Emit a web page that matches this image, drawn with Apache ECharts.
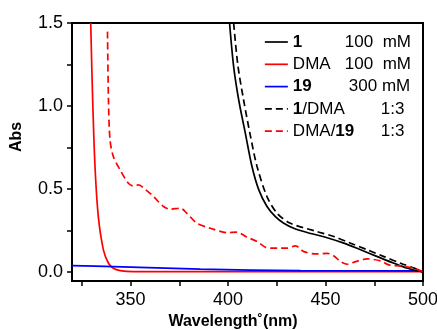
<!DOCTYPE html>
<html><head><meta charset="utf-8">
<script src="https://cdn.jsdelivr.net/npm/echarts@6/dist/echarts.min.js"></script>
<style>html,body{margin:0;padding:0;background:#fff}#c{width:437px;height:330px}</style>
</head><body><div id="c"></div>
<script>
const FONT = '"Liberation Sans", Arial, sans-serif';

// Series 1 (solid black)
const wl1  = [400.8,402.9,405.5,408.9,412.3,415.8,420.0,424.3,428.6,433.7,440.6,450.0,459.4,468.0,476.6,485.1,492.0,498.8,500];
const abs1 = [1.50,1.237,1.036,0.835,0.635,0.494,0.394,0.333,0.293,0.263,0.237,0.209,0.173,0.133,0.092,0.052,0.022,0.002,0.0];
// DMA (solid red)
const wlDMA  = [329.6,330.6,331.8,333.5,336.1,338.7,341.2,344.7,351.5,380,420,460,500];
const absDMA = [1.50,1.036,0.635,0.333,0.133,0.052,0.022,0.008,0.002,0.001,0.001,0.001,0.001];
// 19 (solid blue)
const wl19  = [320,341.2,385.8,437.2,500];
const abs19 = [0.038,0.032,0.016,0.008,0.006];
// 1/DMA 1:3 (dashed black)
const wl1D  = [402.9,405.0,408.0,411.5,414.9,420.0,425.2,432.0,445.7,454.3,462.9,471.4,480.0,488.5,497.0,500];
const abs1D = [1.50,1.25,1.036,0.82,0.635,0.454,0.353,0.293,0.243,0.213,0.173,0.133,0.092,0.052,0.016,0.0];
// DMA/19 1:3 (dashed red)
const wlD19  = [338.2,338.7,339.5,341.2,344.7,348.9,351.5,354.1,357.5,361.8,366.9,370.4,375.5,378.9,384.1,390.9,399.5,404.6,409.8,414.9,419.2,422.6,426.9,430.3,434.6,438.9,445.7,450.9,454.3,457.7,461.2,465.4,471.4,478.3,482.6,488.5,495.4,499.7];
const absD19 = [1.448,1.036,0.795,0.695,0.614,0.534,0.518,0.524,0.498,0.454,0.394,0.378,0.384,0.353,0.293,0.263,0.237,0.239,0.209,0.183,0.149,0.143,0.143,0.143,0.157,0.122,0.108,0.112,0.096,0.062,0.046,0.062,0.078,0.066,0.042,0.036,0.022,0.002];

const xTicks = [325,350,375,400,425,450,475,500];
const xLabels = [350,400,450,500];
const yTicks = [0,0.25,0.5,0.75,1.0,1.25,1.5];
const yLabels = [0,0.5,1.0,1.5];

const zip = (a,b) => a.map((v,i)=>[v,b[i]]);

const names = ['1','DMA','19','1/DMA','DMA/19'];
const colorList = ['#000000','#ff0000','#0000ff','#000000','#ff0000'];
const dashList = ['solid','solid','solid',[7,4],[7,4]];
const legendText = [
  '{bw|1}{n|100  mM}',
  '{nw|DMA}{n|100  mM}',
  '{bw2|19}{n|300 mM}',
  '{b|1}{nw4|/DMA}{n|1:3}',
  '{n|DMA/}{bw5|19}{n|1:3}'
];

const chart = echarts.init(document.getElementById('c'), null, {renderer:'canvas'});
const mk = (i, data) => ({
  name:names[i], type:'line', data, showSymbol:false, symbol:'none', smooth:0.3,
  lineStyle:{color:colorList[i], width:1.7, type: dashList[i]},
  itemStyle:{color:colorList[i]},
  clip:true, animation:false
});
chart.setOption({
  animation:false,
  grid:{left:72, right:14, top:23, bottom:49, outerBoundsMode:'none', containLabel:false,
        show:true, borderColor:'#000', borderWidth:2, backgroundColor:'transparent'},
  xAxis:{
    type:'value', min:320, max:500,
    name:'Wavelength˚(nm)', nameLocation:'middle', nameGap:33,
    nameTextStyle:{fontFamily:FONT, fontSize:16, fontWeight:'bold', color:'#000', padding:[0,29,0,0]},
    axisLine:{show:true, onZero:false, lineStyle:{color:'#000', width:2}},
    axisTick:{show:true, inside:false, length:5, lineStyle:{color:'#000', width:1.5}, customValues:xTicks},
    axisLabel:{fontFamily:FONT, fontSize:18, color:'#000', margin:10, customValues:xLabels, showMinLabel:true, showMaxLabel:true},
    splitLine:{show:false}
  },
  yAxis:{
    type:'value', min:-0.055, max:1.5,
    name:'Abs', nameLocation:'middle', nameGap:47,
    nameTextStyle:{fontFamily:FONT, fontSize:16, fontWeight:'bold', color:'#000', padding:[0,0,0,30]},
    axisLine:{show:true, onZero:false, lineStyle:{color:'#000', width:2}},
    axisTick:{show:true, inside:false, length:5, lineStyle:{color:'#000', width:1.5}, customValues:yTicks},
    axisLabel:{fontFamily:FONT, fontSize:18, color:'#000', margin:9, customValues:yLabels, formatter:v=>v.toFixed(1)},
    splitLine:{show:false}
  },
  legend:{
    data:names.map((n,i)=>({name:n, itemStyle:{opacity:0}, lineStyle:{color:colorList[i], type:dashList[i], width:1.7}})),
    orient:'vertical', left:259, top:27, itemWidth:23, itemHeight:14, itemGap:2.3,
    formatter: n => legendText[names.indexOf(n)],
    textStyle:{fontFamily:FONT, fontSize:17, color:'#000', lineHeight:20,
      rich:{
        b:{fontFamily:FONT, fontSize:17, fontWeight:'bold', color:'#000'},
        n:{fontFamily:FONT, fontSize:17, color:'#000'},
        bw:{fontFamily:FONT, fontSize:17, fontWeight:'bold', color:'#000', width:52},
        bw2:{fontFamily:FONT, fontSize:17, fontWeight:'bold', color:'#000', width:56},
        nw:{fontFamily:FONT, fontSize:17, color:'#000', width:52},
        nw4:{fontFamily:FONT, fontSize:17, color:'#000', width:78.5},
        bw5:{fontFamily:FONT, fontSize:17, fontWeight:'bold', color:'#000', width:45.5}
      }}
  },
  series:[
    mk(1, zip(wlDMA,absDMA)),
    mk(2, zip(wl19,abs19)),
    mk(0, zip(wl1,abs1)),
    mk(3, zip(wl1D,abs1D)),
    mk(4, zip(wlD19,absD19))
  ]
});
</script></body></html>
